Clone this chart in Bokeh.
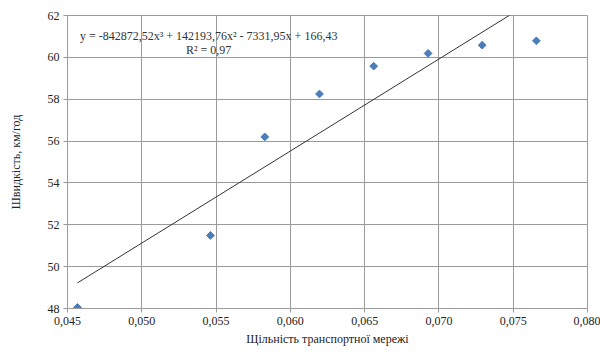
import numpy as np
from bokeh.plotting import figure
from bokeh.models import Label, Range1d, FixedTicker, CustomJSTickFormatter
from bokeh.embed import file_html
from bokeh.resources import INLINE

density = [0.04567, 0.05462, 0.05828, 0.06196, 0.06561, 0.06927, 0.07291, 0.07656]
speed = [48.05, 51.49, 56.20, 58.25, 59.58, 60.19, 60.58, 60.79]
x_ticks = [0.045, 0.050, 0.055, 0.060, 0.065, 0.070, 0.075, 0.080]
y_ticks = [48, 50, 52, 54, 56, 58, 60, 62]
equation = "y = -842872,52x³ + 142193,76x² - 7331,95x + 166,43"
r2_text = "R² = 0,97"
x_title = "Щільність транспортної мережі"
y_title = "Швидкість, км/год"

FONT = "Liberation Serif"
GRID = "#9a9a9a"

p = figure(width=600, height=354, output_backend="svg", toolbar_location=None,
           x_range=Range1d(0.045, 0.080), y_range=Range1d(48, 62),
           min_border_left=67, min_border_right=13, min_border_top=15, min_border_bottom=46)
p.outline_line_color = GRID
p.background_fill_color = "white"
p.border_fill_color = "white"

p.xaxis.ticker = FixedTicker(ticks=x_ticks)
p.yaxis.ticker = FixedTicker(ticks=y_ticks)
p.xaxis.formatter = CustomJSTickFormatter(code="return tick.toFixed(3).replace('.', ',');")
p.yaxis.formatter = CustomJSTickFormatter(code="return tick.toFixed(0);")
for ax in (p.xaxis, p.yaxis):
    ax.axis_line_color = GRID
    ax.major_tick_line_color = GRID
    ax.minor_tick_line_color = None
    ax.major_tick_in = 0
    ax.major_tick_out = 4
    ax.major_label_text_font = FONT
    ax.major_label_text_font_size = "12px"
    ax.major_label_text_color = "#222222"
    ax.axis_label_text_font = FONT
    ax.axis_label_text_font_size = "12px"
    ax.axis_label_text_font_style = "normal"
    ax.axis_label_text_color = "#222222"
p.xaxis.axis_label = x_title
p.yaxis.axis_label = y_title
p.xaxis.major_label_standoff = 4
p.xaxis.axis_label_standoff = 4
p.yaxis.major_label_standoff = 4
p.yaxis.axis_label_standoff = 22

p.xgrid.grid_line_color = GRID
p.ygrid.grid_line_color = GRID
p.xgrid.ticker = FixedTicker(ticks=x_ticks)
p.ygrid.ticker = FixedTicker(ticks=y_ticks)

# linear trend line through data
k, b = np.polyfit(density, speed, 1)
tx = [density[0], density[-1]]
ty = [k * v + b for v in tx]
p.line(tx, ty, line_color="#333333", line_width=1)

p.scatter(density, speed, marker="square", angle=np.pi / 4, size=5.5,
          fill_color="#4a7ebb", line_color="#4a7ebb")

p.add_layout(Label(x=0.0545, y=61.04, text=equation, text_align="center", text_baseline="middle",
                   text_font=FONT, text_font_size="12px", text_color="#333333"))
p.add_layout(Label(x=0.0545, y=60.33, text=r2_text, text_align="center", text_baseline="middle",
                   text_font=FONT, text_font_size="12px", text_color="#333333"))

open("out.html", "w").write(file_html(p, INLINE))
